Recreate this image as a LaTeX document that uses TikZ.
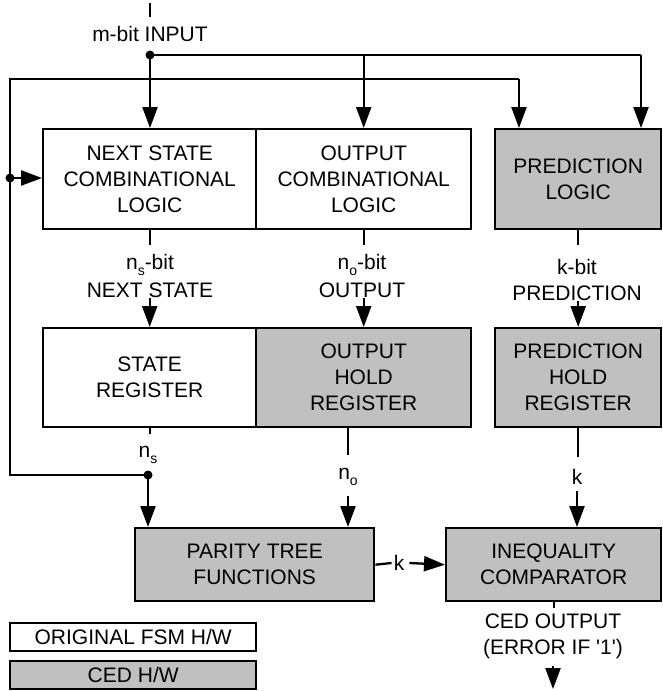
\documentclass[tikz,border=0pt]{standalone}
\usepackage{fontspec}
\setmainfont{Liberation Sans}
\usetikzlibrary{arrows.meta,calc}
\definecolor{cedgray}{RGB}{192,192,192}
\newcommand\lsub[1]{\raisebox{-0.3em}{\fontsize{14}{14}\selectfont #1}}
\begin{document}
\begin{tikzpicture}[x=1pt,y=-1pt,
  every node/.style={font=\fontsize{21}{26}\selectfont, align=center, inner sep=0pt},
  wire/.style={line width=2.3pt},
  arr/.style={line width=2.3pt, -{Triangle[length=21pt,width=15pt]}},
  box/.style={draw, line width=2.4pt, anchor=north west},
  fsm/.style={box, fill=white},
  ced/.style={box, fill=cedgray},
  jdot/.style={circle, fill=black, minimum size=9pt, inner sep=0pt}]
\useasboundingbox (0,0) rectangle (662,691);

% boxes
\node[fsm, minimum width=213pt, minimum height=100pt] (nsl) at (42,128) {NEXT STATE\\COMBINATIONAL\\LOGIC};
\node[fsm, minimum width=215pt, minimum height=100pt] (ocl) at (255,128) {OUTPUT\\COMBINATIONAL\\LOGIC};
\node[ced, minimum width=166pt, minimum height=100pt] (pl) at (494,128) {PREDICTION\\LOGIC};
\node[fsm, minimum width=213pt, minimum height=99pt] (sr) at (42,327) {STATE\\REGISTER};
\node[ced, minimum width=215pt, minimum height=99pt] (ohr) at (255,327) {OUTPUT\\HOLD\\REGISTER};
\node[ced, minimum width=166pt, minimum height=99pt] (phr) at (494,327) {PREDICTION\\HOLD\\REGISTER};
\node[ced, minimum width=239pt, minimum height=73pt] (pt) at (134,527) {PARITY TREE\\FUNCTIONS};
\node[ced, minimum width=215pt, minimum height=73pt] (ic) at (445,527) {INEQUALITY\\COMPARATOR};
\node[fsm, minimum width=246pt, minimum height=28pt] (leg1) at (9,622) {ORIGINAL FSM H/W};
\node[ced, minimum width=246pt, minimum height=28pt] (leg2) at (9,660) {CED H/W};

% input
\coordinate (intop) at (150,3);
\coordinate (inbot) at (150,17);
\draw[wire] (intop) -- (inbot);
\node (inlbl) at (150,34) {m-bit INPUT};
\node[jdot] (din) at (150,55) {};
\coordinate (inR) at (641,55);
\draw[wire] (din.center) -- (inR);
\draw[arr] (inR) -- (inR |- pl.north);
\draw[arr] (din.center) -- (din.center |- nsl.north);
\draw[arr] (din.center -| ocl.north) -- (ocl.north);

% feedback loop
\node[jdot] (dns) at (148,475) {};
\coordinate (fbL) at (10,475);
\coordinate (fbT) at (10,79);
\coordinate (fbR) at (519,79);
\node[jdot] (dfb) at (10,178) {};
\draw[wire] (dns.center) -- (fbL) -- (fbT) -- (fbR);
\draw[arr] (fbR) -- (fbR |- pl.north);
\draw[arr] (dfb.center) -- (dfb.center -| nsl.west);

% next state / output / prediction buses
\node (nslbla) at (150,265) {n\lsub{s}-bit};
\node (nslblb) at (150,290) {NEXT STATE};
\node (oclbla) at (362,265) {n\lsub{o}-bit};
\node (oclblb) at (362,290) {OUTPUT};
\node (pllbl) at (577,280) {k-bit\\PREDICTION};
\draw[wire] (nsl.south) -- ++(0,15);
\draw[wire] (ocl.south) -- ++(0,15);
\draw[wire] (pl.south) -- ++(0,15);
\draw[arr] (nslblb.south -| sr.north) -- (sr.north);
\draw[arr] (oclblb.south -| ohr.north) -- (ohr.north);
\draw[arr] (pllbl.south -| phr.north) -- (phr.north);

% register outputs
\draw[wire] (sr.south) -- ++(0,6);
\node (nslab) at (148,455) {n\lsub{s}};
\draw[arr] (dns.center) -- (dns.center |- pt.north);
\coordinate (ohrout) at (348,426);
\draw[wire] (ohrout) -- (348,455);
\node (nolab) at (348,477) {n\lsub{o}};
\draw[arr] (348,496) -- (348,527);
\draw[wire] (phr.south) -- ++(0,29);
\node (klab) at (577,477) {k};
\draw[arr] (577,491) -- (577,527);

% parity to comparator
\node (kmid) at (399,563) {k};
\draw[wire] (pt.east) -- ([xshift=-2pt]kmid.west);
\draw[arr] ([xshift=5pt]kmid.east) -- (ic.west);

% CED output
\draw[wire] (ic.south) -- ++(0,6);
\node (cedlbl) at (553,636) {CED OUTPUT\\(ERROR IF \textquotesingle 1\textquotesingle)};
\draw[arr] (553,666) -- (553,689);
\end{tikzpicture}
\end{document}
